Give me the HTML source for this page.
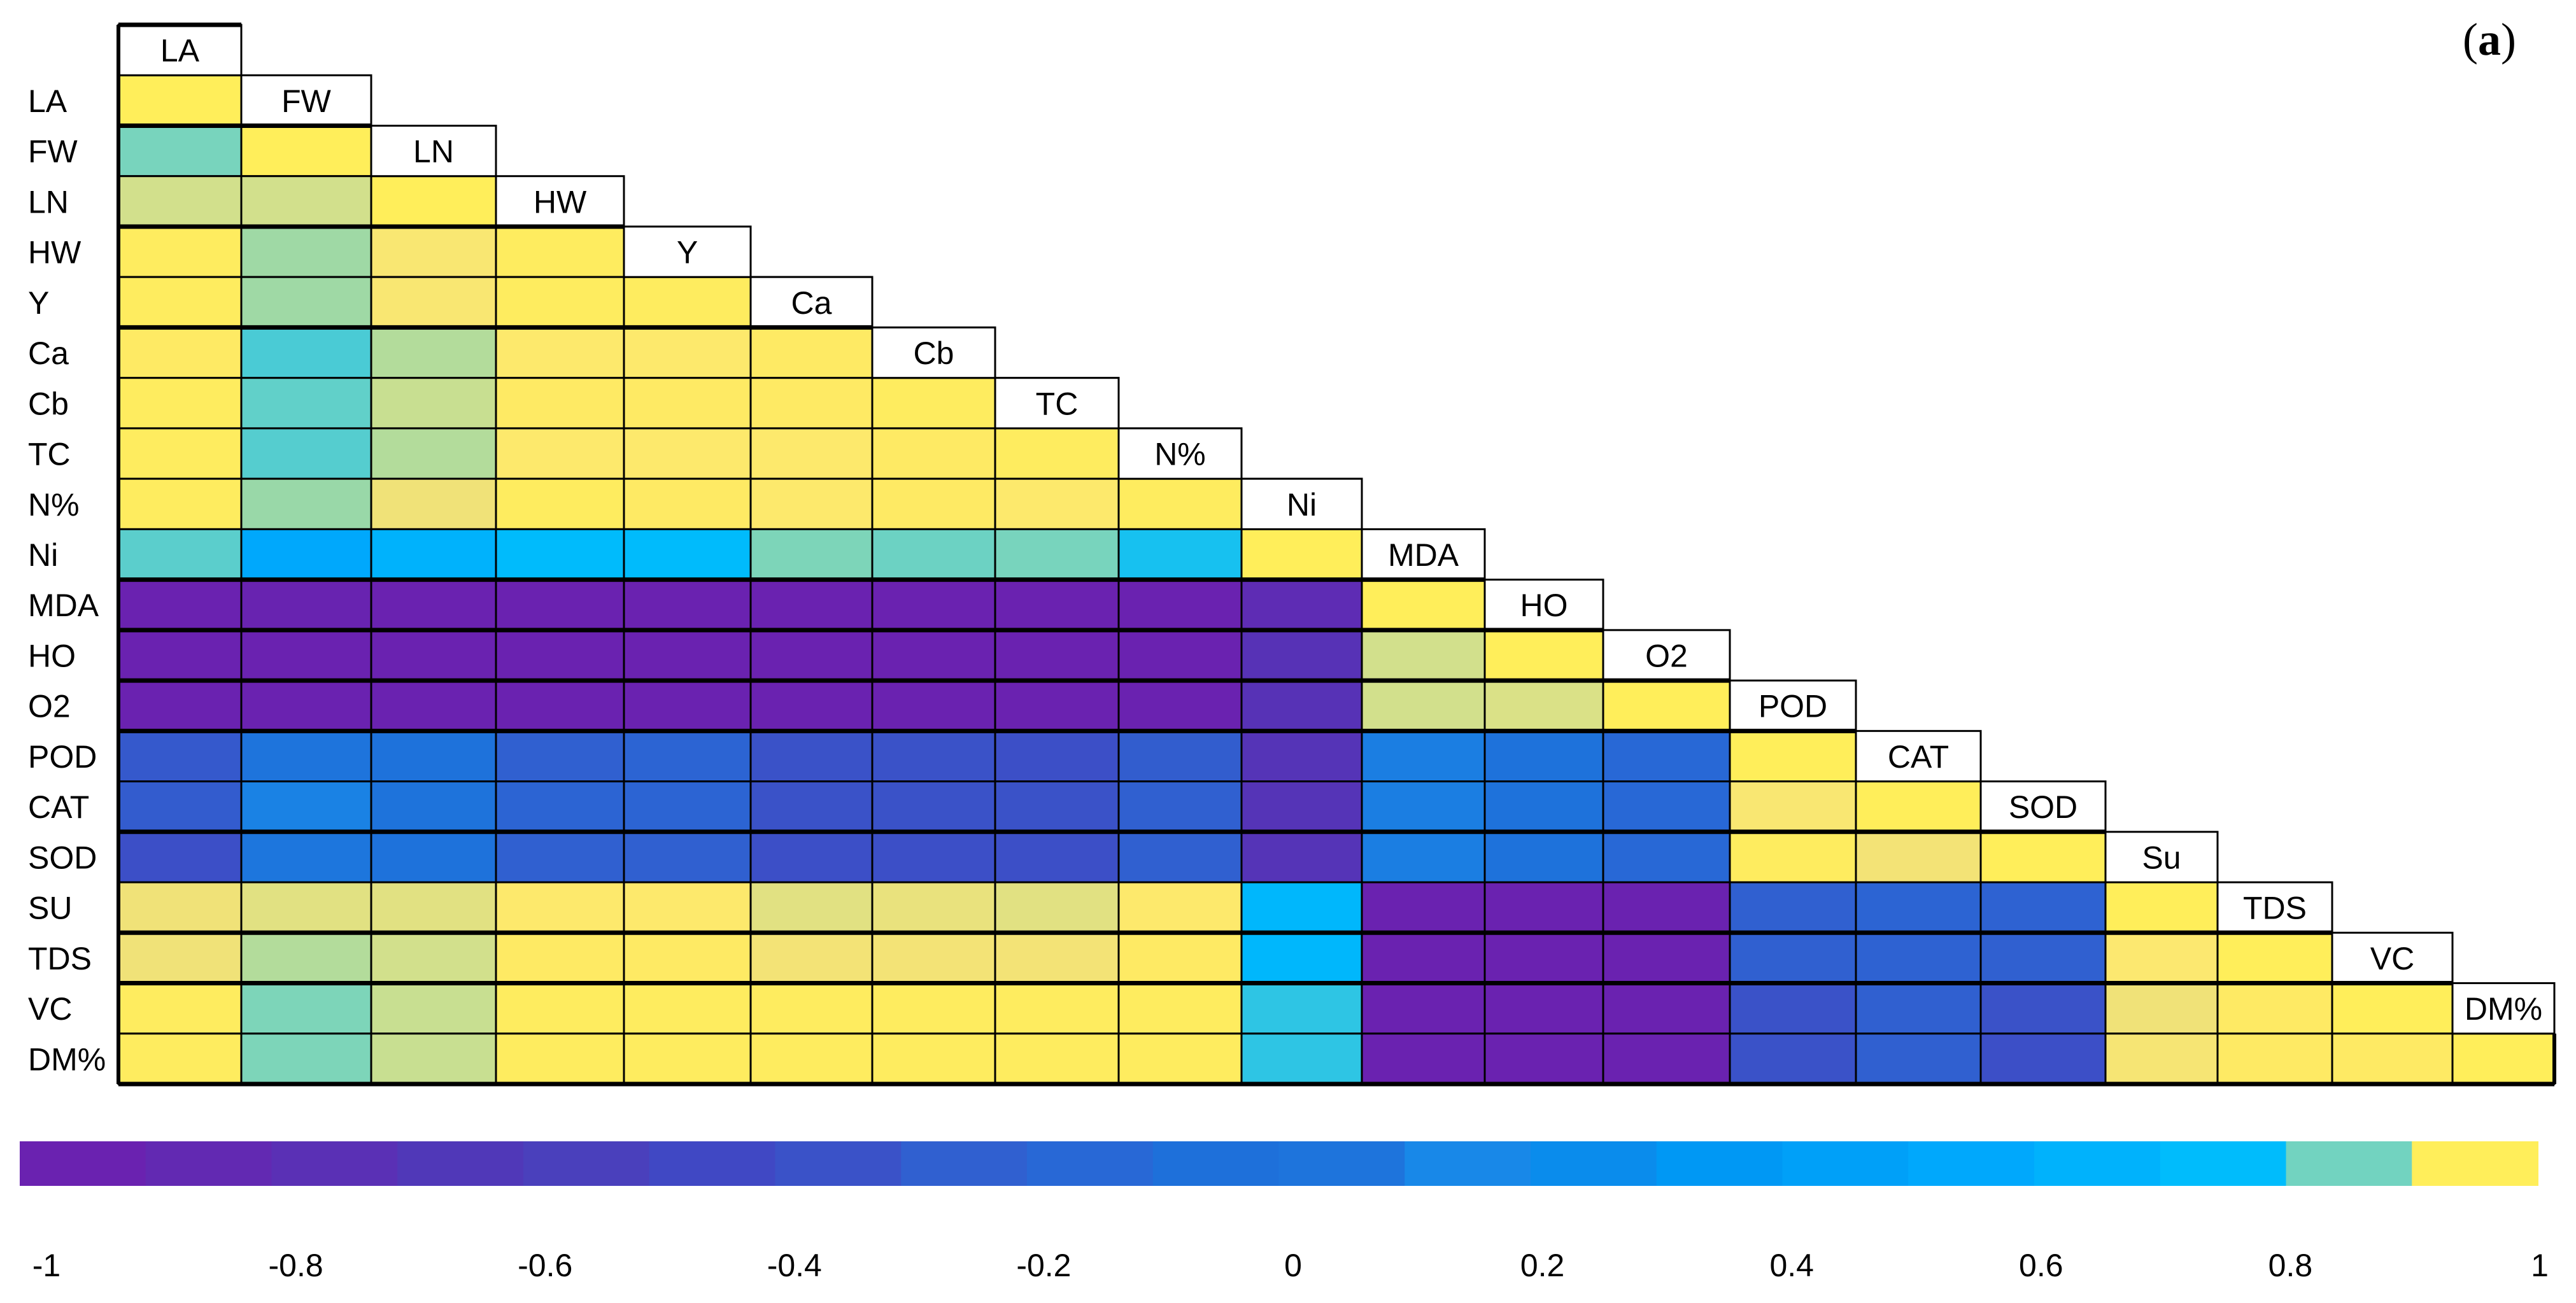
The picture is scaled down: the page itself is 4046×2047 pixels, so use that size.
<!DOCTYPE html>
<html><head><meta charset="utf-8"><style>
html,body{margin:0;padding:0;background:#fff;}
svg{display:block;}
text{font-family:"Liberation Sans",sans-serif;}
</style></head>
<body>
<svg id="chart" width="4046" height="2047" viewBox="0 0 4046 2047" xmlns="http://www.w3.org/2000/svg">
<text x="3910" y="86" text-anchor="middle" font-size="72" style="font-family:'Liberation Serif',serif">(<tspan font-weight="bold">a</tspan>)</text>
<g id="cells"></g>
<g id="headers"></g>
<g id="rowlabels"></g>
<g id="lines"></g>
<g id="colorbar"></g>
<g id="cbticks"></g>
</svg>
<script>
const rowLabels = ["LA","FW","LN","HW","Y","Ca","Cb","TC","N%","Ni","MDA","HO","O2","POD","CAT","SOD","SU","TDS","VC","DM%"];
const colLabels = ["LA","FW","LN","HW","Y","Ca","Cb","TC","N%","Ni","MDA","HO","O2","POD","CAT","SOD","Su","TDS","VC","DM%"];
const corrRows = [
 [1],
 [0.855,1],
 [0.915,0.915,1],
 [0.98,0.89,0.95,0.98,1],
 [0.98,0.89,0.95,0.98,0.98,1],
 [0.97,0.815,0.90,0.96,0.96,0.97,1],
 [0.98,0.835,0.91,0.97,0.97,0.97,0.98,1],
 [0.98,0.825,0.90,0.96,0.96,0.96,0.97,0.98,1],
 [0.98,0.885,0.935,0.98,0.97,0.96,0.97,0.96,0.98,1],
 [0.83,0.55,0.65,0.74,0.74,0.86,0.845,0.855,0.77,1],
 [-0.97,-0.93,-0.97,-0.97,-0.97,-0.97,-0.97,-0.97,-0.97,-0.8,1],
 [-0.96,-0.96,-0.96,-0.96,-0.96,-0.96,-0.96,-0.96,-0.96,-0.72,0.915,1],
 [-0.96,-0.96,-0.96,-0.96,-0.96,-0.96,-0.96,-0.96,-0.96,-0.72,0.915,0.92,1],
 [-0.3,0.05,0.0,-0.25,-0.2,-0.35,-0.35,-0.38,-0.27,-0.7,0.1,0.0,-0.15,1],
 [-0.28,0.12,0.02,-0.2,-0.2,-0.35,-0.35,-0.35,-0.25,-0.7,0.1,0.0,-0.15,0.95,1],
 [-0.38,0.06,0.01,-0.25,-0.25,-0.38,-0.38,-0.38,-0.25,-0.7,0.1,0.01,-0.15,0.98,0.94,1],
 [0.935,0.925,0.925,0.96,0.96,0.925,0.93,0.925,0.96,0.70,-0.97,-0.96,-0.96,-0.25,-0.2,-0.22,1],
 [0.935,0.90,0.915,0.97,0.97,0.94,0.94,0.94,0.97,0.70,-0.97,-0.95,-0.96,-0.25,-0.22,-0.25,0.955,1],
 [0.98,0.86,0.91,0.98,0.98,0.98,0.98,0.98,0.98,0.79,-0.97,-0.95,-0.96,-0.35,-0.25,-0.35,0.935,0.97,1],
 [0.98,0.86,0.91,0.98,0.98,0.98,0.98,0.98,0.98,0.79,-0.97,-0.95,-0.96,-0.35,-0.25,-0.38,0.945,0.97,0.97,1]
];
const tickValues = [-1,-0.8,-0.6,-0.4,-0.2,0,0.2,0.4,0.6,0.8,1];
const tickLabels = ["-1","-0.8","-0.6","-0.4","-0.2","0","0.2","0.4","0.6","0.8","1"];
const thickRows = [1,3,5,10,11,12,13,15,17,18];

const NS="http://www.w3.org/2000/svg";
const stops=[[-0.95,"#6a22b0"],[-0.85,"#6229b2"],[-0.75,"#5a30b5"],[-0.65,"#5038b8"],[-0.55,"#4a40bc"],[-0.45,"#4048c4"],[-0.35,"#3a52c8"],[-0.25,"#3060d0"],[-0.15,"#2868d6"],[-0.05,"#1e70da"],[0.05,"#1e74dc"],[0.15,"#1888e8"],[0.25,"#0a8cec"],[0.35,"#0098f4"],[0.45,"#00a0f8"],[0.55,"#00a8fc"],[0.65,"#00b2fc"],[0.75,"#00bcfc"],[0.85,"#72d3c0"],[0.89,"#9fd9a5"],[0.915,"#d2e08c"],[0.935,"#f0e278"],[0.955,"#fce870"],[0.975,"#feeb60"],[1.0,"#ffee5a"]];
function hx(c){return [1,3,5].map(i=>parseInt(c.substr(i,2),16));}
function cmap(v){
  if(v<=stops[0][0])return stops[0][1];
  if(v>=stops[stops.length-1][0])return stops[stops.length-1][1];
  for(let i=0;i<stops.length-1;i++){
    const a=stops[i],b=stops[i+1];
    if(v>=a[0]&&v<=b[0]){const t=(v-a[0])/(b[0]-a[0]);const A=hx(a[1]),B=hx(b[1]);
      return "rgb("+A.map((x,k)=>Math.round(x+(B[k]-x)*t)).join(",")+")";}
  }
}
// layout: column edges (pixels) measured from reference
const colEdges=[186,379,583,779,980,1179,1370,1563,1757,1950,2139,2332,2518,2717,2915,3111,3307,3483,3663,3852,4012];
const X0=colEdges[0],X1=colEdges[colEdges.length-1],Y0=39,Y1=1703;
const nC=colLabels.length, nR=rowLabels.length+1;
const rh=(Y1-Y0)/nR;
function xCol(j){return colEdges[j];}
function wCol(j){return colEdges[j+1]-colEdges[j];}
function yRow(i){return Y0+(i+1)*rh;}
function mk(tag,attrs,parent){const e=document.createElementNS(NS,tag);for(const k in attrs)e.setAttribute(k,attrs[k]);parent.appendChild(e);return e;}
const gC=document.getElementById("cells"),gH=document.getElementById("headers"),gR=document.getElementById("rowlabels"),gL=document.getElementById("lines");
corrRows.forEach((row,i)=>{
  row.forEach((v,j)=>{
    const r=mk("rect",{x:xCol(j),y:yRow(i),width:wCol(j),height:rh,fill:cmap(v),stroke:"#000","stroke-width":3},gC);
    
    
  });
  const t=mk("text",{x:44,y:yRow(i)+rh/2+18,"font-size":50,fill:"#000"},gR);
  t.textContent=rowLabels[i];
  
  
});
colLabels.forEach((c,j)=>{
  const y=yRow(j-1);
  const r=mk("rect",{x:xCol(j),y:y,width:wCol(j),height:rh,fill:"#fff",stroke:"#000","stroke-width":3},gH);
  
  
  const t=mk("text",{x:xCol(j)+wCol(j)/2,y:y+rh/2+18,"font-size":50,"text-anchor":"middle",fill:"#000"},gH);
  t.textContent=c;
  
  
});
thickRows.forEach(i=>{
  const y=yRow(i);
  const l=mk("line",{x1:X0,x2:xCol(i+1),y1:y,y2:y,stroke:"#000","stroke-width":7},gL);
  
  
});
const tl=mk("line",{x1:X0,x2:xCol(1),y1:Y0,y2:Y0,stroke:"#000","stroke-width":7},gL);


const bl=mk("line",{x1:X0,x2:X1,y1:Y1,y2:Y1,stroke:"#000","stroke-width":7},gL);


const ll=mk("line",{x1:X0,x2:X0,y1:Y0,y2:Y1,stroke:"#000","stroke-width":6},gL);


const rl=mk("line",{x1:X1,x2:X1,y1:yRow(nR-2),y2:Y1,stroke:"#000","stroke-width":6},gL);


const gB=document.getElementById("colorbar"),gT=document.getElementById("cbticks");
const CB0=31,CB1=3986,CBY=1793,CBH=70,nSeg=20,segW=(CB1-CB0)/nSeg;
for(let k=0;k<nSeg;k++){
  let v=-1+(k+0.5)*2/nSeg;
  if(k===nSeg-1)v=1;
  const r=mk("rect",{x:CB0+k*segW,y:CBY,width:segW+1,height:CBH,fill:cmap(v)},gB);
  
  
}
function xTick(v){return 2031+v*1958;}
tickValues.forEach((v,k)=>{
  const t=mk("text",{x:xTick(v),y:2005,"font-size":50,"text-anchor":"middle",fill:"#000"},gT);
  t.textContent=tickLabels[k];
  
  
});
</script>
</body></html>
